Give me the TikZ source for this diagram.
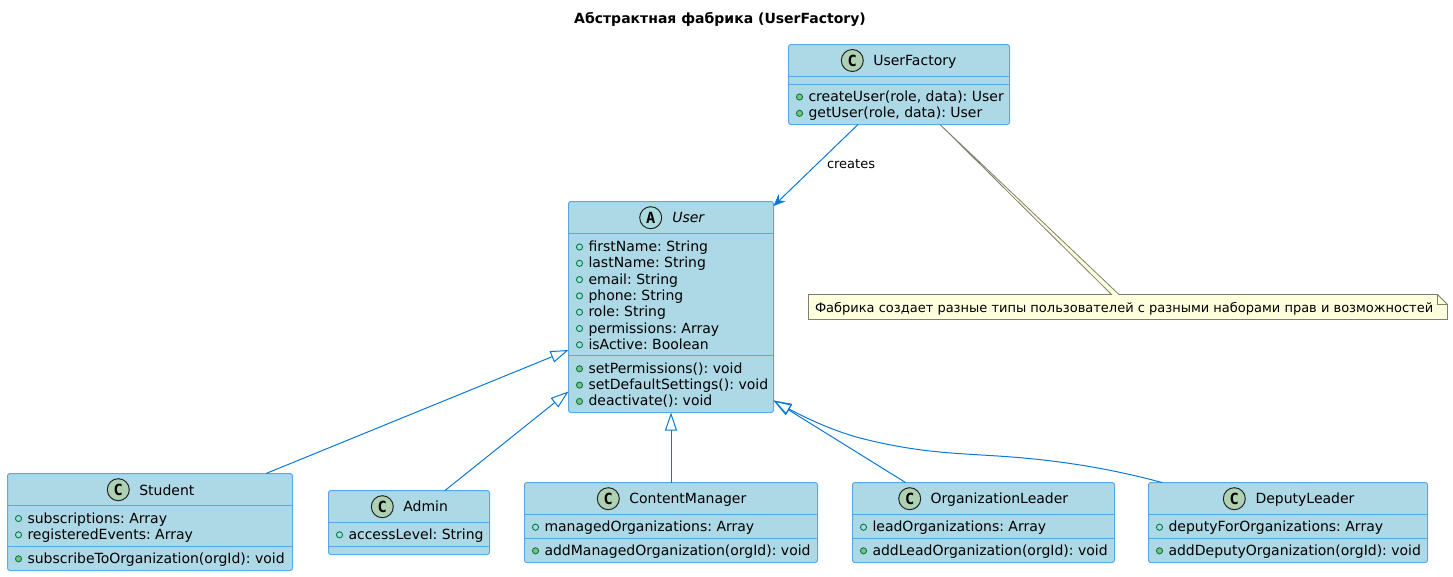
\documentclass[tikz,border=0pt]{standalone}
\usepackage{fontspec}
\setmainfont{DejaVu Sans}
\newfontfamily\monob{DejaVu Sans Mono}[BoldFont={DejaVu Sans Mono Bold}]
\usetikzlibrary{arrows.meta,calc}
\frenchspacing
\definecolor{boxfill}{HTML}{ADD8E6}
\definecolor{boxline}{HTML}{5AA9E6}
\definecolor{conn}{HTML}{0A78D7}
\definecolor{notefill}{HTML}{FEFFDD}
\definecolor{noteline}{HTML}{7F7F6F}
\definecolor{iconline}{HTML}{038048}
\definecolor{iconfill}{HTML}{84BE84}
\definecolor{cfill}{HTML}{ADD1B2}
\definecolor{afill}{HTML}{A9DCDF}
\tikzset{
  x=0.75pt,y=-0.75pt,
  classbox/.style={draw=boxline,fill=boxfill,line width=0.75pt,rounded corners=1.8pt,inner sep=0pt,outer sep=0pt,anchor=north west},
  rowline/.style={draw=boxline,line width=0.75pt},
  txt/.style={inner sep=0pt,outer sep=0pt,anchor=base west,font=\fontsize{10.5}{12}\selectfont,text=black},
  smalltxt/.style={inner sep=0pt,outer sep=0pt,anchor=base west,font=\fontsize{9.75}{12}\selectfont,text=black},
  badge/.style={circle,draw=black!85,line width=0.75pt,minimum size=16.5pt,inner sep=0pt,font=\monob\bfseries\fontsize{11.5}{12}\selectfont},
  fieldicon/.style={circle,draw=iconline,line width=0.7pt,minimum size=4.6pt,inner sep=0pt},
  methodicon/.style={circle,draw=iconline,fill=iconfill,line width=0.7pt,minimum size=4.6pt,inner sep=0pt},
  inherit/.style={draw=conn,line width=0.75pt,-{Triangle[open,length=13.5pt,width=9pt,line width=0.75pt]}},
  assoc/.style={draw=conn,line width=0.75pt,-{Stealth[length=9pt,width=7.5pt,inset=3pt,line width=0.5pt,fill=conn]}},
}
% name, x1, y1, x2, y2
\newcommand{\umlbox}[5]{%
  \pgfmathsetlengthmacro{\bw}{(#4-#2)*0.75pt}%
  \pgfmathsetlengthmacro{\bh}{(#5-#3)*0.75pt}%
  \node[classbox,minimum width=\bw,minimum height=\bh] (#1) at (#2,#3) {};%
}
% name, x1, x2, y
\newcommand{\umlrow}[4]{\draw[rowline] (#2,#4) -- (#3,#4);}
% node name, icon x, baseline, text
\newcommand{\umlfield}[4]{%
  \node[fieldicon] (#1i) at (#2,#3-4.5) {};
  \node[txt] (#1t) at (#2+9,#3) {#4};}
\newcommand{\umlmethod}[4]{%
  \node[methodicon] (#1i) at (#2,#3-4.5) {};
  \node[txt] (#1t) at (#2+9,#3) {#4};}
\begin{document}
\begin{tikzpicture}
\useasboundingbox (0,0) rectangle (1453,576);
\node[inner sep=0pt,anchor=base,font=\bfseries\fontsize{10.5}{12}\selectfont] (title) at (720,23) {Абстрактная фабрика (UserFactory)};

% UserFactory
\umlbox{factory}{788.5}{44.5}{1009.5}{124.5}
\umlrow{factory}{788.5}{1009.5}{76.5}
\umlrow{factory}{788.5}{1009.5}{84.5}
\node[badge,fill=cfill] (factoryb) at (852.3,60.5) {C};
\node[txt] (factoryn) at (873.3,65) {UserFactory};
\umlmethod{fm1}{799.5}{101.5}{createUser(role, data): User}
\umlmethod{fm2}{799.5}{117.8}{getUser(role, data): User}

% User
\umlbox{user}{568.5}{201.5}{773.5}{412.5}
\umlrow{user}{568.5}{773.5}{233.5}
\umlrow{user}{568.5}{773.5}{355.5}
\node[badge,fill=afill] (userb) at (650.7,217.7) {A};
\node[txt,font=\itshape\fontsize{10.5}{12}\selectfont] (usern) at (672.3,222.7) {User};
\umlfield{u1}{579.5}{251.5}{firstName: String}
\umlfield{u2}{579.5}{267.8}{lastName: String}
\umlfield{u3}{579.5}{284.1}{email: String}
\umlfield{u4}{579.5}{300.4}{phone: String}
\umlfield{u5}{579.5}{316.7}{role: String}
\umlfield{u6}{579.5}{333}{permissions: Array}
\umlfield{u7}{579.5}{349.3}{isActive: Boolean}
\umlmethod{u8}{579.5}{373.3}{setPermissions(): void}
\umlmethod{u9}{579.5}{389.6}{setDefaultSettings(): void}
\umlmethod{u10}{579.5}{405.9}{deactivate(): void}

% Student
\umlbox{student}{7.5}{473.5}{292.5}{570.5}
\umlrow{student}{7.5}{292.5}{505.5}
\umlrow{student}{7.5}{292.5}{546.5}
\node[badge,fill=cfill] (studentb) at (118.3,489.7) {C};
\node[txt] (studentn) at (139.3,495) {Student};
\umlfield{s1}{18.5}{523}{subscriptions: Array}
\umlfield{s2}{18.5}{539.3}{registeredEvents: Array}
\umlmethod{s3}{18.5}{563.3}{subscribeToOrganization(orgId): void}

% Admin
\umlbox{admin}{328.5}{490.5}{489.5}{554.5}
\umlrow{admin}{328.5}{489.5}{522.5}
\umlrow{admin}{328.5}{489.5}{546.5}
\node[badge,fill=cfill] (adminb) at (382.3,506.7) {C};
\node[txt] (adminn) at (403.3,511) {Admin};
\umlfield{a1}{339.5}{539.3}{accessLevel: String}

% ContentManager
\umlbox{content}{524.5}{482.5}{817.5}{562.5}
\umlrow{content}{524.5}{817.5}{514.5}
\umlrow{content}{524.5}{817.5}{538.5}
\node[badge,fill=cfill] (contentb) at (608.3,498.7) {C};
\node[txt] (contentn) at (629.3,503.5) {ContentManager};
\umlfield{c1}{535.5}{531.7}{managedOrganizations: Array}
\umlmethod{c2}{535.5}{555.3}{addManagedOrganization(orgId): void}

% OrganizationLeader
\umlbox{leader}{852.5}{482.5}{1114.5}{562.5}
\umlrow{leader}{852.5}{1114.5}{514.5}
\umlrow{leader}{852.5}{1114.5}{538.5}
\node[badge,fill=cfill] (leaderb) at (909.7,498.7) {C};
\node[txt] (leadern) at (930.7,503.5) {OrganizationLeader};
\umlfield{l1}{863.5}{531.7}{leadOrganizations: Array}
\umlmethod{l2}{863.5}{555.3}{addLeadOrganization(orgId): void}

% DeputyLeader
\umlbox{deputy}{1148.5}{482.5}{1427.5}{562.5}
\umlrow{deputy}{1148.5}{1427.5}{514.5}
\umlrow{deputy}{1148.5}{1427.5}{538.5}
\node[badge,fill=cfill] (deputyb) at (1234.3,498.7) {C};
\node[txt] (deputyn) at (1255.5,503.5) {DeputyLeader};
\umlfield{d1}{1159.5}{531.7}{deputyForOrganizations: Array}
\umlmethod{d2}{1159.5}{555.3}{addDeputyOrganization(orgId): void}

% Note
\draw[draw=noteline,line width=0.6pt,fill=notefill]
  (808.5,294.5) -- (1111.5,294.5) -- (940,124.5) -- (1119,294.5) -- (1437.5,294.5) -- (1447.5,304.5) -- (1447.5,319.5) -- (808.5,319.5) -- cycle;
\draw[draw=noteline,line width=0.6pt] (1437.5,294.5) -- (1437.5,304.5) -- (1447.5,304.5);
\node[smalltxt] (note) at (815,312) {Фабрика создает разные типы пользователей с разными наборами прав и возможностей};

% Connectors
\draw[assoc] ([shift={(-41,0)}]factory.south) -- ([shift={(0,4.5)}]user.north east);
\node[smalltxt] (creates) at (827,168) {creates};
\draw[inherit] ([shift={(116,0)}]student.north) -- ([shift={(0,43)}]user.west);
\draw[inherit] ([shift={(36,0)}]admin.north) -- ([shift={(0,84.5)}]user.west);
\draw[inherit] (content.north) -- (user.south);
\draw[inherit] ([shift={(-78,0)}]leader.north) -- ([shift={(0,-12)}]user.south east);
\draw[inherit] ([shift={(-126,0)}]deputy.north) .. controls (1090,463) and (1030,458) .. (993,455.7) .. controls (950,453) and (915,452) .. (860,438) .. controls (830,430) and (800,415) .. ([shift={(0,-12)}]user.south east);
\end{tikzpicture}
\end{document}
